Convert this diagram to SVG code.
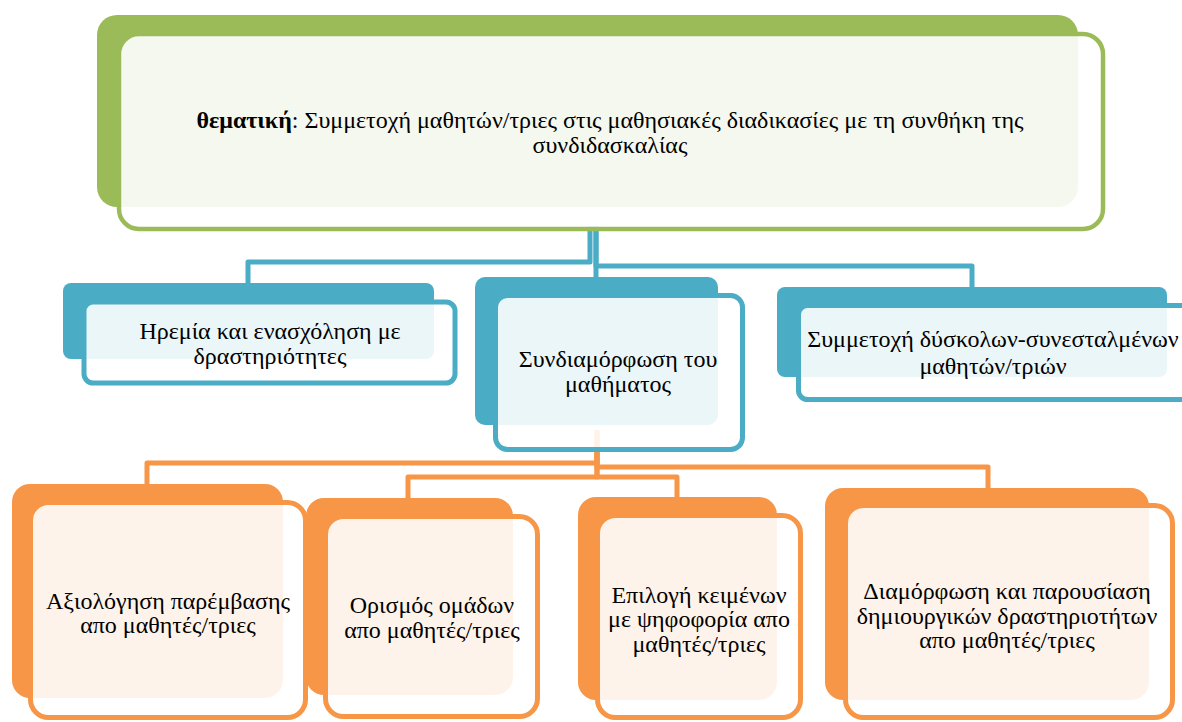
<svg xmlns="http://www.w3.org/2000/svg" width="1182" height="722" viewBox="0 0 1182 722">
  <style>
    .txt { font-family: "Liberation Serif", "Times New Roman", serif; font-size: 24px; fill: #000; text-anchor: middle; }
    .b { font-weight: bold; }
    .conn-blue { fill: none; stroke: #4bacc6; stroke-width: 5; stroke-linejoin: round; }
    .conn-orange { fill: none; stroke: #f79646; stroke-width: 5; stroke-linejoin: round; }
    .back-green { fill: #9bbb59; }
    .front-green { fill: #ffffff; fill-opacity: 0.9; stroke: #9bbb59; stroke-width: 4.5; }
    .back-blue { fill: #4bacc6; }
    .front-blue { fill: #ffffff; fill-opacity: 0.89; stroke: #4bacc6; stroke-width: 5; }
    .back-orange { fill: #f79646; }
    .front-orange { fill: #ffffff; fill-opacity: 0.89; stroke: #f79646; stroke-width: 5; }
  </style>

  <rect width="1182" height="722" fill="#ffffff"/>

  <!-- connectors, drawn under the boxes -->
  <g id="connectors">
    <path class="conn-blue" d="M590,226 V262 H248 V284"/>
    <path class="conn-blue" d="M596,226 V292"/>
    <path class="conn-blue" d="M596,226 V266 H972 V290"/>
    <path class="conn-orange" d="M597,430 V463 H147 V486"/>
    <path class="conn-orange" d="M597,430 V477 H408 V500"/>
    <path class="conn-orange" d="M597,430 V477 H677 V500"/>
    <path class="conn-orange" d="M597,430 V467 H988 V490"/>
  </g>

  <!-- root topic -->
  <g id="node-root">
    <rect class="back-green" x="97" y="15" width="981" height="192" rx="20"/>
    <rect class="front-green" x="119" y="34" width="984" height="195" rx="20"/>
    <text class="txt" x="610" y="128"><tspan class="b">θεματική</tspan>: Συμμετοχή μαθητών/τριες στις μαθησιακές διαδικασίες με τη συνθήκη της</text>
    <text class="txt" x="610" y="153">συνδιδασκαλίας</text>
  </g>

  <!-- second level -->
  <g id="node-calm">
    <rect class="back-blue" x="63" y="283" width="371" height="76" rx="8"/>
    <rect class="front-blue" x="84" y="302" width="371" height="81" rx="9"/>
    <text class="txt" x="270" y="339">Ηρεμία και ενασχόληση με</text>
    <text class="txt" x="270" y="364">δραστηριότητες</text>
  </g>

  <g id="node-codesign">
    <rect class="back-blue" x="475" y="277" width="243" height="148" rx="10"/>
    <rect class="front-blue" x="495.5" y="295.5" width="247" height="154" rx="12"/>
    <text class="txt" x="618" y="367">Συνδιαμόρφωση του</text>
    <text class="txt" x="618" y="392">μαθήματος</text>
  </g>

  <g id="node-shy">
    <rect class="back-blue" x="777" y="287" width="390" height="90" rx="8"/>
    <rect class="front-blue" x="798.5" y="305.5" width="400" height="94" rx="9"/>
    <text class="txt" x="993" y="347">Συμμετοχή δύσκολων-συνεσταλμένων</text>
    <text class="txt" x="993" y="374">μαθητών/τριών</text>
  </g>

  <!-- third level -->
  <g id="node-evaluation">
    <rect class="back-orange" x="12" y="484" width="271" height="214" rx="18"/>
    <rect class="front-orange" x="30.5" y="502.5" width="275" height="215" rx="18"/>
    <text class="txt" x="168" y="609">Αξιολόγηση παρέμβασης</text>
    <text class="txt" x="168" y="633">απο μαθητές/τριες</text>
  </g>

  <g id="node-groups">
    <rect class="back-orange" x="306" y="498" width="207" height="197" rx="18"/>
    <rect class="front-orange" x="325.5" y="516.5" width="212" height="200" rx="18"/>
    <text class="txt" x="432" y="613">Ορισμός ομάδων</text>
    <text class="txt" x="432" y="638">απο μαθητές/τριες</text>
  </g>

  <g id="node-texts">
    <rect class="back-orange" x="578" y="497" width="199" height="203" rx="18"/>
    <rect class="front-orange" x="597.5" y="515.5" width="203" height="202" rx="18"/>
    <text class="txt" x="699" y="603">Επιλογή κειμένων</text>
    <text class="txt" x="699" y="627">με ψηφοφορία απο</text>
    <text class="txt" x="699" y="652">μαθητές/τριες</text>
  </g>

  <g id="node-activities">
    <rect class="back-orange" x="825" y="488" width="324" height="212" rx="18"/>
    <rect class="front-orange" x="845.5" y="505.5" width="327" height="212" rx="18"/>
    <text class="txt" x="1007" y="599">Διαμόρφωση και παρουσίαση</text>
    <text class="txt" x="1007" y="624">δημιουργικών δραστηριοτήτων</text>
    <text class="txt" x="1007" y="648">απο μαθητές/τριες</text>
  </g>
</svg>
